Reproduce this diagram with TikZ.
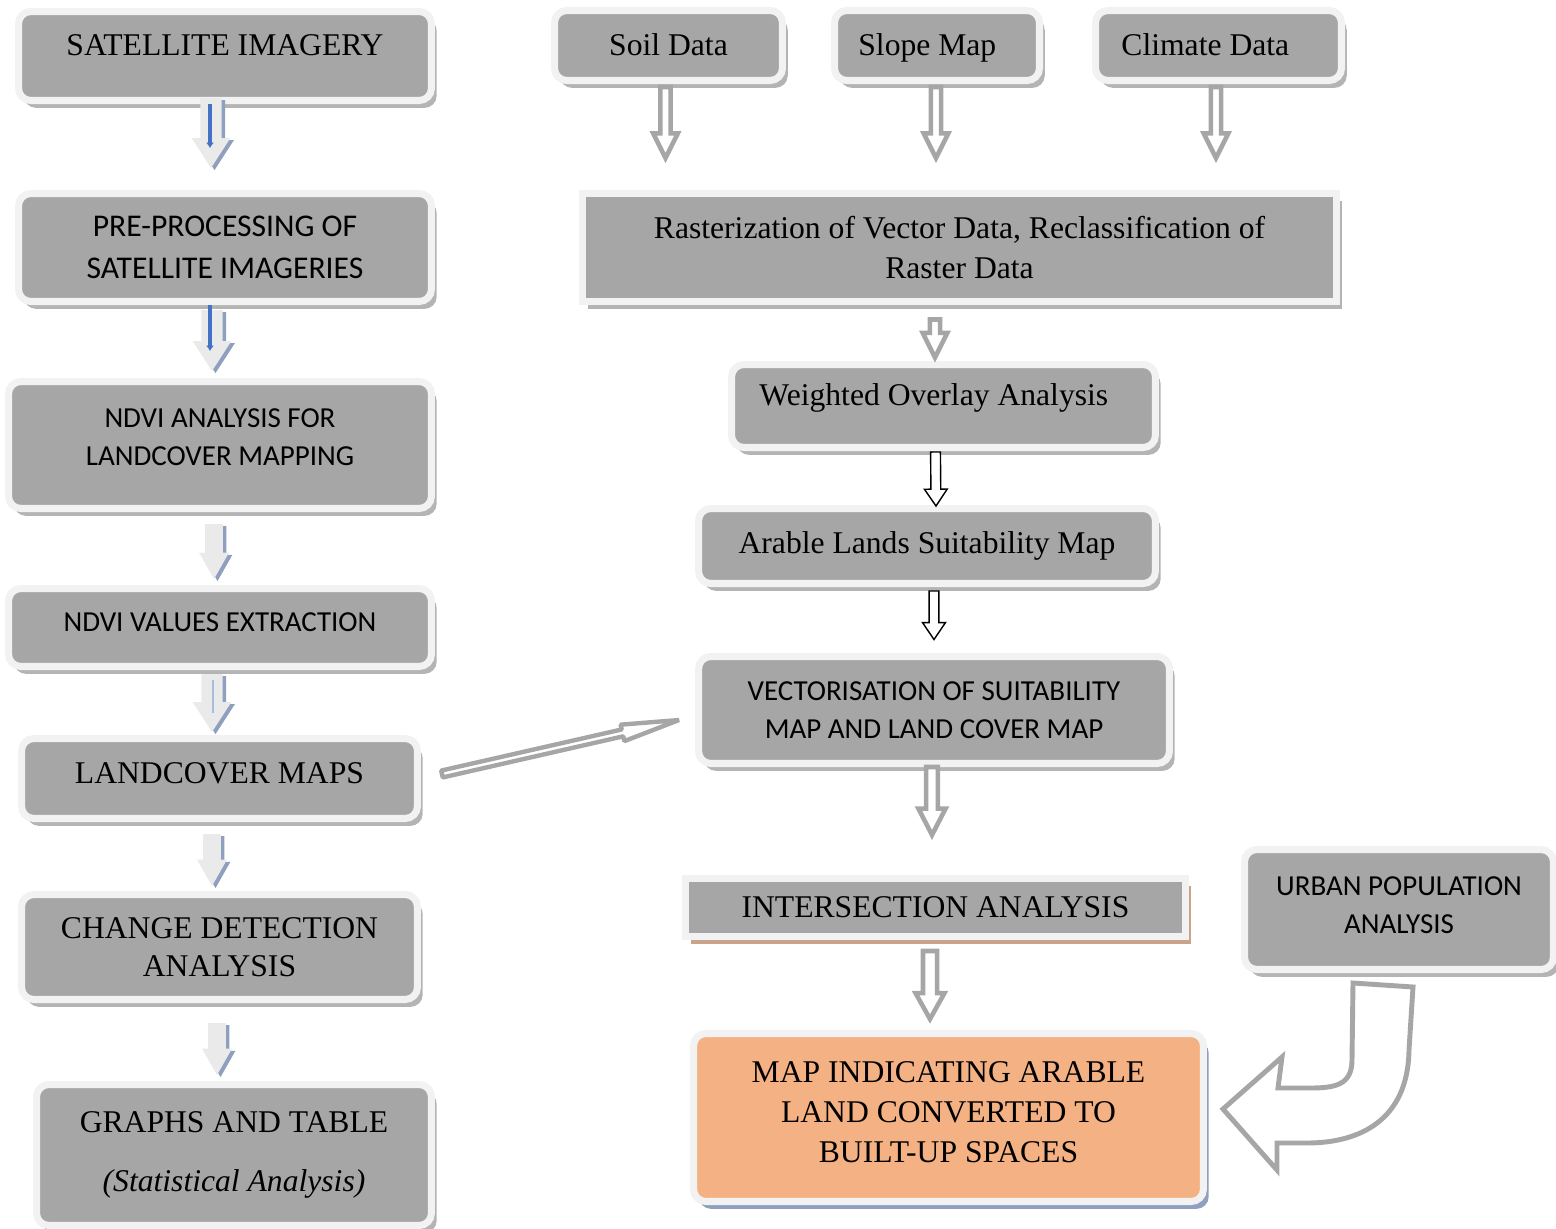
\documentclass[tikz,border=0pt]{standalone}
\usepackage{fontspec}
\setmainfont{Liberation Serif}
\setsansfont{Carlito}
\usetikzlibrary{calc}
\usetikzlibrary{shadows}
\usetikzlibrary{arrows.meta}

\definecolor{boxgray}{HTML}{A6A6A6}
\definecolor{ringgray}{HTML}{F2F2F2}
\definecolor{shadowgray}{HTML}{B4B4B4}
\definecolor{arrgray}{HTML}{A6A6A6}
\definecolor{arrfill}{HTML}{EAEAEA}
\definecolor{arrshadow}{HTML}{8EA0BD}
\definecolor{stripeblue}{HTML}{4472C4}
\definecolor{stripelight}{HTML}{A9BCDB}
\definecolor{mapfill}{HTML}{F4B183}
\definecolor{mapblue}{HTML}{8EA0BD}
\definecolor{interbrown}{HTML}{C9A38A}

\tikzset{
  shaft half/.store in=\shafthalf, shaft half=2.9pt,
  head half/.store in=\headhalf, head half=7pt,
  head len/.store in=\headlen, head len=14pt,
  boxshade/.style={drop shadow={shadow xshift=3pt, shadow yshift=-4.2pt, fill=#1, opacity=1}},
  basebox/.style={rectangle, draw=ringgray, line width=4pt, fill=boxgray, align=center,
    inner sep=0pt, font=\fontsize{18}{22.7}\selectfont},
  box/.style={basebox, rounded corners=7pt, boxshade=shadowgray},
  sqbox/.style={basebox, boxshade=shadowgray},
  sansbox/.style={box, font=\sffamily\fontsize{16.5}{21.6}\selectfont},
  hollowarr/.style={draw=arrgray, line width=2.6pt, fill=white, line join=miter},
  thinarr/.style={draw=black, line width=0.8pt, fill=white, shaft half=2.8pt, head half=6.5pt, head len=9.6pt},
  lightarr/.style={fill=arrfill, draw=none, shaft half=6pt, head half=11pt, head len=17pt,
    drop shadow={shadow xshift=2pt, shadow yshift=-1.2pt, fill=arrshadow, opacity=1}},
  smaller/.style={shaft half=5pt, head half=8.5pt, head len=15pt},
  stripe/.style={line width=2pt, draw=stripeblue},
  tipstripe/.style={stripe, -{Latex[length=3pt,width=4.5pt]}}
}

\newcommand\blockarrow[3][]{%
  \draw[#1] let \p1=(#2), \p2=(#3),
    \n1={atan2(\y2-\y1,\x2-\x1)}, \n2={veclen(\x2-\x1,\y2-\y1)} in
    [shift={(\p1)}, rotate=\n1]
    (0pt,-\shafthalf) -- ({\n2-\headlen},-\shafthalf) -- ({\n2-\headlen},-\headhalf)
    -- ({\n2+0pt},0pt) -- ({\n2-\headlen},\headhalf) -- ({\n2-\headlen},\shafthalf)
    -- (0pt,\shafthalf) -- cycle;}

\begin{document}
\begin{tikzpicture}[x=0.02cm, y=-0.02cm]
  \useasboundingbox (0,0) rectangle (1556,1228);

  \node[box, minimum width=8.26cm, minimum height=1.78cm, text depth=12.5pt] (sat) at (225,56) {SATELLITE IMAGERY};
  \node[box, minimum width=8.26cm, minimum height=2.16cm, font=\sffamily\fontsize{18}{24}\selectfont] (pre) at (225,247.5) {PRE-PROCESSING OF\\SATELLITE IMAGERIES};
  \node[sansbox, minimum width=8.46cm, minimum height=2.54cm, text depth=9pt] (ndvi) at (220,445) {NDVI ANALYSIS FOR\\LANDCOVER MAPPING};
  \node[sansbox, minimum width=8.46cm, minimum height=1.56cm, text depth=6pt] (ext) at (220,627.5) {NDVI VALUES EXTRACTION};
  \node[box, minimum width=7.92cm, minimum height=1.6cm, text depth=6pt] (lcm) at (219.5,778.5) {LANDCOVER MAPS};
  \node[box, minimum width=7.92cm, minimum height=2.1cm, font=\fontsize{18}{22}\selectfont] (cda) at (219.5,947) {CHANGE DETECTION\\ANALYSIS};
  \node[box, minimum width=7.9cm, minimum height=2.82cm] (gra) at (234,1155) {GRAPHS AND TABLE\\[11pt]\textit{(Statistical Analysis)}};

  \node[box, minimum width=4.56cm, minimum height=1.4cm, text depth=1.5pt] (soil) at (668.5,45.5) {Soil Data};
  \node[box, minimum width=4.1cm, minimum height=1.4cm, text depth=1.5pt] (slope) at (937,45.5) {Slope Map\rule{11pt}{0pt}};
  \node[box, minimum width=4.92cm, minimum height=1.4cm, text depth=1.5pt] (climate) at (1218.5,45.5) {Climate Data\rule{15pt}{0pt}};
  \node[sqbox, minimum width=15.08cm, minimum height=2.16cm] (raster) at (959.5,247.5) {Rasterization of Vector Data, Reclassification of\\Raster Data};
  \node[box, minimum width=8.48cm, minimum height=1.66cm, text depth=13pt] (weighted) at (943.5,406) {Weighted Overlay Analysis\rule{11pt}{0pt}};
  \node[box, minimum width=9.14cm, minimum height=1.5cm] (arable) at (927,546) {Arable Lands Suitability Map};
  \node[sansbox, minimum width=9.42cm, minimum height=2.14cm] (vect) at (934,710) {VECTORISATION OF SUITABILITY\\MAP AND LAND COVER MAP};
  \node[basebox, boxshade=interbrown, minimum width=10cm, minimum height=1.16cm] (inter) at (935.5,907.5) {INTERSECTION ANALYSIS};
  \node[sansbox, minimum width=6.18cm, minimum height=2.4cm, text depth=5pt, font=\sffamily\fontsize{16.5}{22}\selectfont] (urban) at (1399,909.5) {URBAN POPULATION\\ANALYSIS};
  \node[basebox, rounded corners=7pt, fill=mapfill, boxshade=mapblue, minimum width=10.2cm, minimum height=3.36cm, text depth=6pt] (map) at (948.5,1117.5) {MAP INDICATING ARABLE\\LAND CONVERTED TO\\BUILT-UP SPACES};

  \blockarrow[lightarr]{$(sat.south)+(-14,-6)$}{$(pre.north)+(-14,-22)$}
  \draw[tipstripe] ($(sat.south)+(-15,0)$) -- ($(pre.north)+(-15,-42)$);
  \blockarrow[lightarr]{$(pre.south)+(-13,5)$}{$(ndvi.north)+(-8,-7)$}
  \draw[tipstripe] ($(pre.south)+(-15,0)$) -- ($(ndvi.north)+(-10,-27)$);
  \blockarrow[lightarr, smaller]{$(ndvi.south)+(-6,12)$}{$(ext.north)+(-6,-6)$}
  \blockarrow[lightarr]{$(ext.south)+(-8,4)$}{$(lcm.north)+(-7.5,-3)$}
  \draw[stripe, draw=stripelight, line width=1.2pt] ($(ext.south)+(-7,10)$) -- ($(lcm.north)+(-6.5,-22)$);
  \blockarrow[lightarr, smaller]{$(lcm.south)+(-7.5,12)$}{$(cda.north)+(-7.5,-5)$}
  \blockarrow[lightarr, smaller]{$(cda.south)+(-2.5,20)$}{$(gra.north)+(-17,-6)$}

  \blockarrow[hollowarr]{$(soil.south)+(-3,3)$}{$(soil.south |- raster.north)+(-3,-32)$}
  \blockarrow[hollowarr]{$(slope.south)+(-1,3)$}{$(slope.south |- raster.north)+(-1,-32)$}
  \blockarrow[hollowarr]{$(climate.south)+(-2.5,3)$}{$(climate.south |- raster.north)+(-2.5,-32)$}
  \blockarrow[hollowarr]{$(raster.south)+(-24.5,14.5)$}{$(weighted.north)+(-8.5,-3.5)$}
  \blockarrow[thinarr]{$(weighted.south)+(-8,1)$}{$(arable.north)+(9,1)$}
  \blockarrow[thinarr]{$(arable.south)+(7,4)$}{$(vect.north)+(0,-13.5)$}
  \blockarrow[hollowarr, shaft half=3.3pt, head half=7.7pt, head len=15pt]{$(vect.south)+(-2,0)$}{$(inter.north)+(-3.5,-40)$}
  \blockarrow[hollowarr, shaft half=4pt, head half=8.2pt, head len=14.7pt]{$(inter.south)+(-5.5,11)$}{$(map.north)+(-18.5,-11)$}
  \blockarrow[hollowarr, line width=2.5pt, line join=bevel, shaft half=2pt, head half=4.8pt, head len=33pt]{$(lcm.east)+(21,-4.5)$}{$(vect.west)+(-16,10)$}

  \draw[hollowarr, line width=2.8pt] (1353,983) -- (1352,1060) .. controls (1352,1085) and (1335,1088) .. (1310,1088)
    -- (1278,1088) -- (1282,1057) -- (1223,1109) -- (1277,1170) -- (1277,1143) -- (1307,1143)
    .. controls (1360,1143) and (1408,1120) .. (1409,1050) -- (1413,987) -- cycle;
\end{tikzpicture}
\end{document}
